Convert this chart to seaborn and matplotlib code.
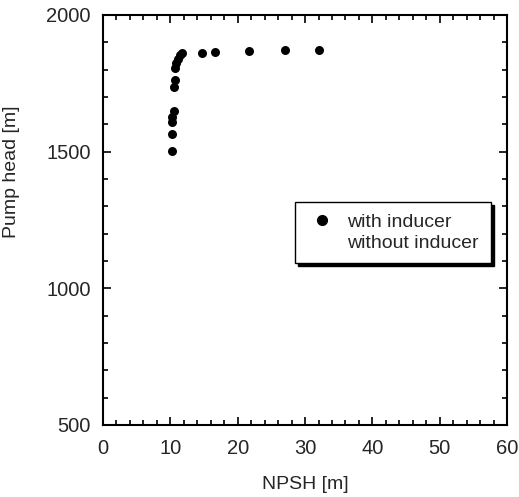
import numpy as np
import pandas as pd
import matplotlib
matplotlib.use("Agg")
import matplotlib.pyplot as plt
from matplotlib.lines import Line2D
from matplotlib.ticker import MultipleLocator
import seaborn as sns

# NPSH [m] vs pump head [m]
npsh_with = [10.3, 10.3, 10.3, 10.3, 10.5, 10.5, 10.7, 10.7, 10.9, 11.1,
             11.5, 11.7, 14.7, 16.6, 21.7, 27.0, 32.1]
head_with = [1503, 1565, 1610, 1626, 1649, 1738, 1762, 1805, 1823, 1838,
             1854, 1860, 1860, 1866, 1869, 1872, 1872]
labels = ["with inducer", "without inducer"]

df = pd.DataFrame({"NPSH": npsh_with, "head": head_with})

sns.set_style("ticks")
plt.rcParams["font.family"] = ["Liberation Sans", "DejaVu Sans"]

fig = plt.figure(figsize=(5.19, 4.97), dpi=100)
ax = fig.add_axes([0.1985, 0.145, 0.7785, 0.825])

sns.scatterplot(data=df, x="NPSH", y="head", ax=ax, color="black",
                s=42, edgecolor="black", linewidth=0, legend=False)

ax.set_xlim(0, 60)
ax.set_ylim(500, 2000)
ax.xaxis.set_major_locator(MultipleLocator(10))
ax.xaxis.set_minor_locator(MultipleLocator(2))
ax.yaxis.set_major_locator(MultipleLocator(500))
ax.yaxis.set_minor_locator(MultipleLocator(100))
ax.tick_params(which="both", direction="in", top=True, right=True,
               color="black", width=1.2)
ax.tick_params(which="major", length=6, labelsize=14.5)
ax.tick_params(which="minor", length=3.5)
ax.tick_params(axis="x", which="major", pad=10)
ax.tick_params(axis="y", which="major", pad=9)
for sp in ax.spines.values():
    sp.set_color("black")
    sp.set_linewidth(1.5)

ax.set_xlabel("NPSH [m]", fontsize=14)
ax.set_ylabel("Pump head [m]", fontsize=14)
ax.xaxis.set_label_coords(0.5, -0.125)
ax.yaxis.set_label_coords(-0.205, 0.617)

handles = [Line2D([], [], marker="o", color="black", linestyle="", markersize=7),
           Line2D([], [], marker="", color="none", linestyle="")]
leg = ax.legend(handles, labels, loc="upper left", bbox_to_anchor=(0.475, 0.544),
                borderaxespad=0, fontsize=14, frameon=True, fancybox=False,
                edgecolor="black", handlelength=1.6, handletextpad=0.5,
                labelspacing=0.15, borderpad=0.6,
                shadow={"color": "black", "alpha": 1.0})
leg.get_frame().set_linewidth(1.0)

fig.savefig("out.png", dpi=100)
